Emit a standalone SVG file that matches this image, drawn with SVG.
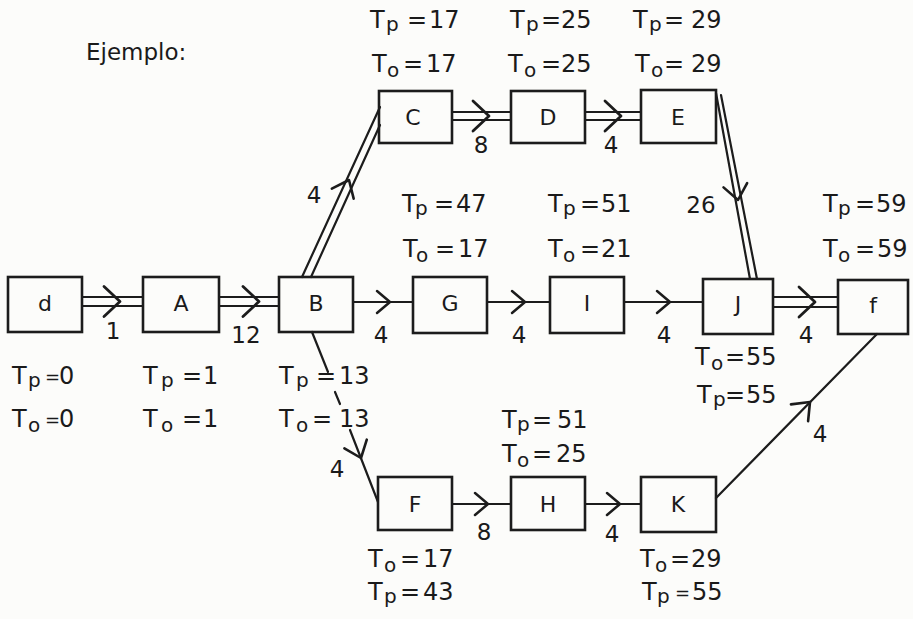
<svg xmlns="http://www.w3.org/2000/svg" width="913" height="619" viewBox="0 0 913 619">
<style>
.bg{fill:#fcfcfa}
.box{fill:none;stroke:#1c1c1c;stroke-width:2.6}
.ln{fill:none;stroke:#1c1c1c;stroke-width:2.2;stroke-linecap:round}
.aux{fill:none;stroke:none}
.t{font-family:"DejaVu Sans","Liberation Sans",sans-serif;font-size:24px;fill:#1a1a1a}
.s{font-size:20px}
.eq{font-size:18px}
.nl{font-family:"DejaVu Sans","Liberation Sans",sans-serif;font-size:23px;fill:#1a1a1a;text-anchor:middle}
.bl{font-family:"DejaVu Sans","Liberation Sans",sans-serif;font-size:22px;fill:#1a1a1a;text-anchor:middle}
</style>
<defs>
<marker id="chevL" viewBox="-20 -20 40 40" markerWidth="40" markerHeight="40" refX="0" refY="0" orient="auto" markerUnits="userSpaceOnUse">
<path d="M-16,-15 L0,0 L-16,15" fill="none" stroke="#1c1c1c" stroke-width="2.8" stroke-linecap="round" stroke-linejoin="round"/>
</marker>
<marker id="chevM" viewBox="-20 -20 40 40" markerWidth="40" markerHeight="40" refX="0" refY="0" orient="auto" markerUnits="userSpaceOnUse">
<path d="M-15,-12 L0,0 L-15,12" fill="none" stroke="#1c1c1c" stroke-width="2.6" stroke-linecap="round" stroke-linejoin="round"/>
</marker>
<marker id="chevS" viewBox="-20 -20 40 40" markerWidth="40" markerHeight="40" refX="0" refY="0" orient="auto" markerUnits="userSpaceOnUse">
<path d="M-13,-11 L0,0 L-13,11" fill="none" stroke="#1c1c1c" stroke-width="2.5" stroke-linecap="round" stroke-linejoin="round"/>
</marker>
</defs>
<rect class="bg" x="0" y="0" width="913" height="619"/>

<text class="t" x="86" y="60" style="font-size:23px">Ejemplo:</text>

<g id="connectors">
<!-- d -> A -->
<path class="ln" d="M82,297 H143 M82,306 H143"/>
<path class="aux" d="M100,301.5 L120,301.5" marker-end="url(#chevL)"/>
<!-- A -> B -->
<path class="ln" d="M219,297 H279 M219,306 H279"/>
<path class="aux" d="M240,301.5 L259,301.5" marker-end="url(#chevL)"/>
<!-- B -> G -->
<path class="ln" d="M353,302 H413"/>
<path class="aux" d="M370,302 L390,302" marker-end="url(#chevS)"/>
<!-- G -> I -->
<path class="ln" d="M487,302 H550"/>
<path class="aux" d="M505,302 L525,302" marker-end="url(#chevS)"/>
<!-- I -> J -->
<path class="ln" d="M624,302 H703"/>
<path class="aux" d="M650,302 L670,302" marker-end="url(#chevS)"/>
<!-- J -> f -->
<path class="ln" d="M773,297 H838 M773,307 H838"/>
<path class="aux" d="M795,302 L815,302" marker-end="url(#chevL)"/>
<!-- C -> D -->
<path class="ln" d="M452,112 H511 M452,120 H511"/>
<path class="aux" d="M469,116 L489,116" marker-end="url(#chevL)"/>
<!-- D -> E -->
<path class="ln" d="M585,112 H641 M585,120 H641"/>
<path class="aux" d="M601,116 L621,116" marker-end="url(#chevL)"/>
<!-- B -> C -->
<path class="ln" d="M302,277 L380,107 M311,277 L380,125"/>
<path class="aux" d="M341.5,196.4 L349,180" marker-end="url(#chevM)"/>
<!-- E -> J -->
<path class="ln" d="M716,93 L750,279 M721,95 L757,279"/>
<path class="aux" d="M734.8,182.3 L738,200" marker-end="url(#chevM)"/>
<!-- B -> F -->
<path class="ln" d="M312,332 L328,372 M335,392 L340,404 M350,430 L378,502"/>
<path class="aux" d="M354.5,441.2 L361,458" marker-end="url(#chevM)"/>
<!-- F -> H -->
<path class="ln" d="M452,504 H511"/>
<path class="aux" d="M468,504 L488,504" marker-end="url(#chevS)"/>
<!-- H -> K -->
<path class="ln" d="M585,504 H641"/>
<path class="aux" d="M600,504 L620,504" marker-end="url(#chevS)"/>
<!-- K -> f -->
<path class="ln" d="M716,498 L877,334"/>
<path class="aux" d="M797.4,414.9 L810,402" marker-end="url(#chevM)"/>

<!-- connector weights -->
<text class="nl" x="113" y="339">1</text>
<text class="nl" x="246" y="343">12</text>
<text class="nl" x="381" y="343">4</text>
<text class="nl" x="519" y="343">4</text>
<text class="nl" x="664" y="343">4</text>
<text class="nl" x="806" y="343">4</text>
<text class="nl" x="314" y="203">4</text>
<text class="nl" x="481" y="153">8</text>
<text class="nl" x="611" y="153">4</text>
<text class="nl" x="701" y="213">26</text>
<text class="nl" x="337" y="477">4</text>
<text class="nl" x="484" y="540">8</text>
<text class="nl" x="612" y="542">4</text>
<text class="nl" x="820" y="442">4</text>
</g>

<g id="node-d">
<rect class="box" x="8" y="277" width="74" height="55"/>
<text class="bl" x="45" y="311">d</text>
<text class="t" x="12" y="384">T<tspan class="s" x="28" y="387">p</tspan><tspan class="eq" x="45" y="383">=</tspan><tspan x="59" y="384">0</tspan></text>
<text class="t" x="12" y="427">T<tspan class="s" x="28" y="432">o</tspan><tspan class="eq" x="45" y="426">=</tspan><tspan x="59" y="427">0</tspan></text>
</g>

<g id="node-A">
<rect class="box" x="143" y="277" width="76" height="55"/>
<text class="bl" x="181" y="311">A</text>
<text class="t" x="143" y="384">T<tspan class="s" x="161" y="387">p</tspan><tspan x="182" y="384">=</tspan><tspan x="203">1</tspan></text>
<text class="t" x="143" y="427">T<tspan class="s" x="161" y="432">o</tspan><tspan x="182" y="427">=</tspan><tspan x="203">1</tspan></text>
</g>

<g id="node-B">
<rect class="box" x="279" y="277" width="74" height="55"/>
<text class="bl" x="316" y="311">B</text>
<text class="t" x="279" y="384">T<tspan class="s" x="296" y="387">p</tspan><tspan x="316" y="384">=</tspan><tspan x="339">13</tspan></text>
<text class="t" x="279" y="427">T<tspan class="s" x="296" y="432">o</tspan><tspan x="312" y="427">=</tspan><tspan x="339">13</tspan></text>
</g>

<g id="node-C">
<rect class="box" x="379" y="91" width="73" height="52"/>
<text class="bl" x="413" y="125">C</text>
<text class="t" x="370" y="28">T<tspan class="s" x="386" y="31">p</tspan><tspan x="407" y="28">=</tspan><tspan x="429">17</tspan></text>
<text class="t" x="372" y="72">T<tspan class="s" x="387" y="77">o</tspan><tspan x="403" y="72">=</tspan><tspan x="426">17</tspan></text>
</g>

<g id="node-D">
<rect class="box" x="511" y="91" width="74" height="52"/>
<text class="bl" x="548" y="125">D</text>
<text class="t" x="510" y="28">T<tspan class="s" x="526" y="31">p</tspan><tspan x="541" y="28">=</tspan><tspan x="561">25</tspan></text>
<text class="t" x="508" y="72">T<tspan class="s" x="524" y="77">o</tspan><tspan x="541" y="72">=</tspan><tspan x="561">25</tspan></text>
</g>

<g id="node-E">
<rect class="box" x="641" y="90" width="75" height="53"/>
<text class="bl" x="678" y="125">E</text>
<text class="t" x="633" y="28">T<tspan class="s" x="649" y="31">p</tspan><tspan x="664" y="28">=</tspan><tspan x="691">29</tspan></text>
<text class="t" x="635" y="72">T<tspan class="s" x="651" y="77">o</tspan><tspan x="664" y="72">=</tspan><tspan x="691">29</tspan></text>
</g>

<g id="node-G">
<rect class="box" x="413" y="277" width="74" height="56"/>
<text class="bl" x="450" y="311">G</text>
<text class="t" x="402" y="212">T<tspan class="s" x="415" y="215">p</tspan><tspan x="434" y="212">=</tspan><tspan x="456">47</tspan></text>
<text class="t" x="403" y="257">T<tspan class="s" x="416" y="262">o</tspan><tspan x="435" y="257">=</tspan><tspan x="458">17</tspan></text>
</g>

<g id="node-I">
<rect class="box" x="550" y="277" width="74" height="56"/>
<text class="bl" x="587" y="311">I</text>
<text class="t" x="548" y="212">T<tspan class="s" x="563" y="215">p</tspan><tspan x="580" y="212">=</tspan><tspan x="601">51</tspan></text>
<text class="t" x="548" y="257">T<tspan class="s" x="563" y="262">o</tspan><tspan x="580" y="257">=</tspan><tspan x="601">21</tspan></text>
</g>

<g id="node-J">
<rect class="box" x="703" y="279" width="70" height="55"/>
<text class="bl" x="738" y="312">J</text>
<text class="t" x="695" y="365">T<tspan class="s" x="711" y="370">o</tspan><tspan x="725" y="365">=</tspan><tspan x="746">55</tspan></text>
<text class="t" x="697" y="403">T<tspan class="s" x="713" y="406">p</tspan><tspan x="725" y="403">=</tspan><tspan x="746">55</tspan></text>
</g>

<g id="node-f">
<rect class="box" x="838" y="280" width="70" height="54"/>
<text class="bl" x="873" y="313">f</text>
<text class="t" x="823" y="212">T<tspan class="s" x="838" y="215">p</tspan><tspan x="855" y="212">=</tspan><tspan x="876">59</tspan></text>
<text class="t" x="823" y="257">T<tspan class="s" x="838" y="262">o</tspan><tspan x="855" y="257">=</tspan><tspan x="877">59</tspan></text>
</g>

<g id="node-F">
<rect class="box" x="378" y="477" width="74" height="53"/>
<text class="bl" x="415" y="512">F</text>
<text class="t" x="368" y="567">T<tspan class="s" x="384" y="572">o</tspan><tspan x="400" y="567">=</tspan><tspan x="423">17</tspan></text>
<text class="t" x="368" y="600">T<tspan class="s" x="384" y="603">p</tspan><tspan x="400" y="600">=</tspan><tspan x="423">43</tspan></text>
</g>

<g id="node-H">
<rect class="box" x="511" y="477" width="74" height="53"/>
<text class="bl" x="548" y="512">H</text>
<text class="t" x="502" y="428">T<tspan class="s" x="517" y="431">p</tspan><tspan x="532" y="428">=</tspan><tspan x="557">51</tspan></text>
<text class="t" x="502" y="462">T<tspan class="s" x="517" y="467">o</tspan><tspan x="532" y="462">=</tspan><tspan x="556">25</tspan></text>
</g>

<g id="node-K">
<rect class="box" x="641" y="477" width="75" height="55"/>
<text class="bl" x="678" y="512">K</text>
<text class="t" x="640" y="567">T<tspan class="s" x="655" y="572">o</tspan><tspan x="670" y="567">=</tspan><tspan x="691">29</tspan></text>
<text class="t" x="642" y="600">T<tspan class="s" x="657" y="603">p</tspan><tspan class="eq" x="675" y="599">=</tspan><tspan x="692" y="600">55</tspan></text>
</g>
</svg>
